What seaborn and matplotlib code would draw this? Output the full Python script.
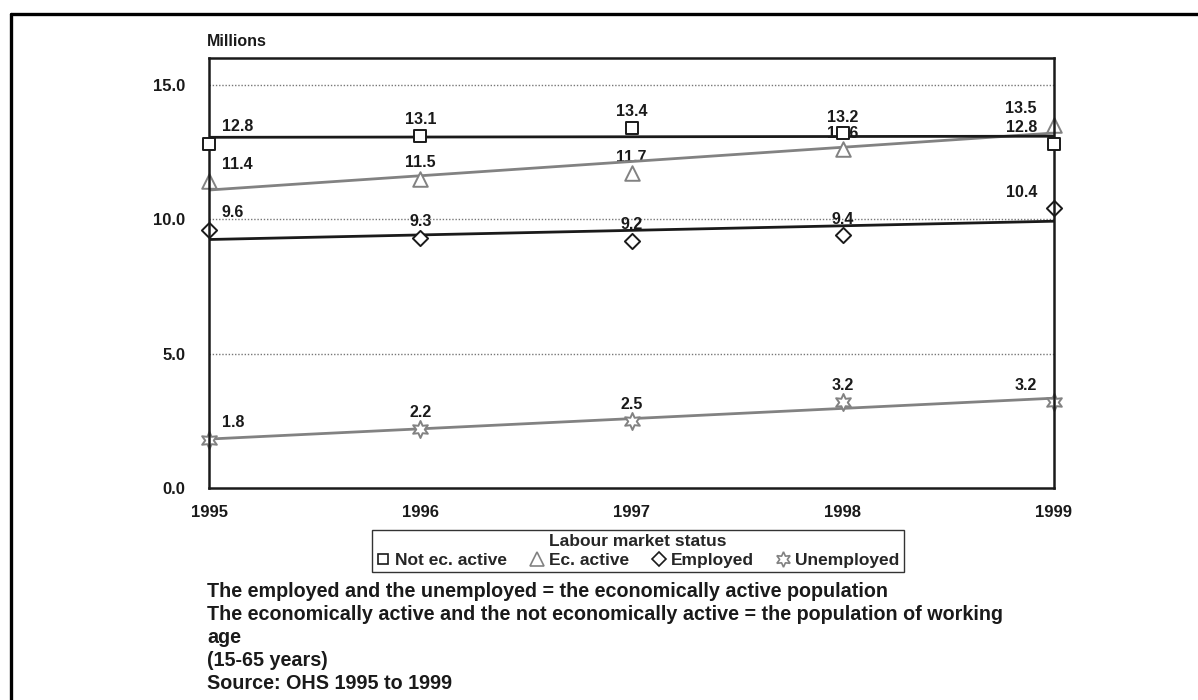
import numpy as np
import pandas as pd
import seaborn as sns
import matplotlib.pyplot as plt
from matplotlib.lines import Line2D

# data
years = [1995, 1996, 1997, 1998, 1999]
not_ec_active = [12.8, 13.1, 13.4, 13.2, 12.8]
ec_active = [11.4, 11.5, 11.7, 12.6, 13.5]
employed = [9.6, 9.3, 9.2, 9.4, 10.4]
unemployed = [1.8, 2.2, 2.5, 3.2, 3.2]
series_names = ['Not ec. active', 'Ec. active', 'Employed', 'Unemployed']
y_ticks = [0, 5, 10, 15]

footnotes = [
    'The employed and the unemployed = the economically active population',
    'The economically active and the not economically active = the population of working',
    'age',
    '(15-65 years)',
    'Source: OHS 1995 to 1999',
]

BLACK = '#1a1a1a'
GRAY = '#828282'

sns.set_style('white')
plt.rcParams['font.family'] = ['Liberation Sans', 'DejaVu Sans']
plt.rcParams['font.weight'] = 'bold'

df = pd.DataFrame({'Year': years, 'Not ec. active': not_ec_active,
                   'Ec. active': ec_active, 'Employed': employed,
                   'Unemployed': unemployed})

fig = plt.figure(figsize=(11.98, 7), dpi=100)
ax = fig.add_axes([209 / 1198, 1 - 488 / 700, (1054 - 209) / 1198, (488 - 57.7) / 700])

# marker, scatter size, edge colour, line colour, zorder, legend size
styles = {
    'Not ec. active': ('s', 70, BLACK, BLACK, 6, 7.5),
    'Ec. active': ('^', 110, GRAY, GRAY, 4, 9.5),
    'Employed': ('D', 60, BLACK, BLACK, 5, 7.5),
    'Unemployed': ((6, 1, 0), 150, GRAY, GRAY, 4, 11),
}

for name in ['Ec. active', 'Not ec. active', 'Unemployed', 'Employed']:
    marker, size, ec, lc, z, _ = styles[name]
    sns.regplot(data=df, x='Year', y=name, ax=ax, ci=None, marker=marker,
                scatter_kws={'s': size, 'facecolors': 'white', 'edgecolors': ec,
                             'linewidths': 1.4, 'alpha': 1, 'clip_on': False,
                             'zorder': z},
                line_kws={'color': lc, 'lw': 2.0, 'zorder': 3})

# data labels
for name in series_names:
    for x, v in zip(years, df[name]):
        if x == years[0]:
            off, ha = (13, 17), 'left'
        elif x == years[-1]:
            off, ha = (-17, 16), 'right'
        else:
            off, ha = (0, 16), 'center'
        ax.annotate(f'{v:.1f}', (x, v), xytext=off, textcoords='offset pixels',
                    ha=ha, va='center', fontsize=11.5, fontweight='bold',
                    color=BLACK, zorder=2, annotation_clip=False)

ax.set_xlim(years[0], years[-1])
ax.set_ylim(0, 16)
ax.set_xticks(years)
ax.set_xticklabels([str(y) for y in years])
ax.set_yticks(y_ticks)
ax.set_yticklabels([f'{t:.1f}' for t in y_ticks])
ax.tick_params(axis='both', length=0, labelsize=12, colors=BLACK)
ax.tick_params(axis='y', pad=17)
ax.tick_params(axis='x', pad=12)
for lab in ax.get_xticklabels() + ax.get_yticklabels():
    lab.set_fontweight('bold')
ax.set_xlabel('')
ax.set_ylabel('')
for t in y_ticks[1:]:
    ax.axhline(t, color='#777777', lw=1.0, ls=(0, (1, 1.3)), zorder=1)
for sp in ax.spines.values():
    sp.set_color(BLACK)
    sp.set_linewidth(1.8)
    sp.set_zorder(5)

fig.text(207 / 1198, 1 - 42 / 700, 'Millions', ha='left', va='center',
         fontsize=11.5, fontweight='bold', color=BLACK)

# legend
handles = []
for name in series_names:
    marker, size, ec, lc, z, msz = styles[name]
    handles.append(Line2D([], [], ls='none', marker=marker, markersize=msz,
                          markerfacecolor='white', markeredgecolor=ec,
                          markeredgewidth=1.2))
leg = fig.legend(handles, series_names, loc='upper center', ncol=4,
                 bbox_to_anchor=(638 / 1198, 1 - 530 / 700), borderaxespad=0,
                 title='Labour market status',
                 title_fontproperties={'weight': 'bold', 'size': 12.5},
                 prop={'weight': 'bold', 'size': 12.5},
                 frameon=True, fancybox=False, framealpha=1,
                 edgecolor='#333333', borderpad=0.25, handlelength=0.8,
                 handletextpad=0.3, columnspacing=1.3, labelspacing=0.2)
leg.get_frame().set_linewidth(1.0)

# footnotes
for i, line in enumerate(footnotes):
    fig.text(207 / 1198, 1 - (597 + 23 * i) / 700, line, ha='left', va='baseline',
             fontsize=14.2, fontweight='bold', color=BLACK)

# outer frame (top and left edges visible)
x0, y0 = 11 / 1198, 1 - 14 / 700
fig.add_artist(Line2D([x0, 1.0], [y0, y0], color='black', lw=2.4,
                      transform=fig.transFigure))
fig.add_artist(Line2D([x0, x0], [y0, 0.0], color='black', lw=2.4,
                      transform=fig.transFigure))

fig.savefig('out.png', dpi=100)
